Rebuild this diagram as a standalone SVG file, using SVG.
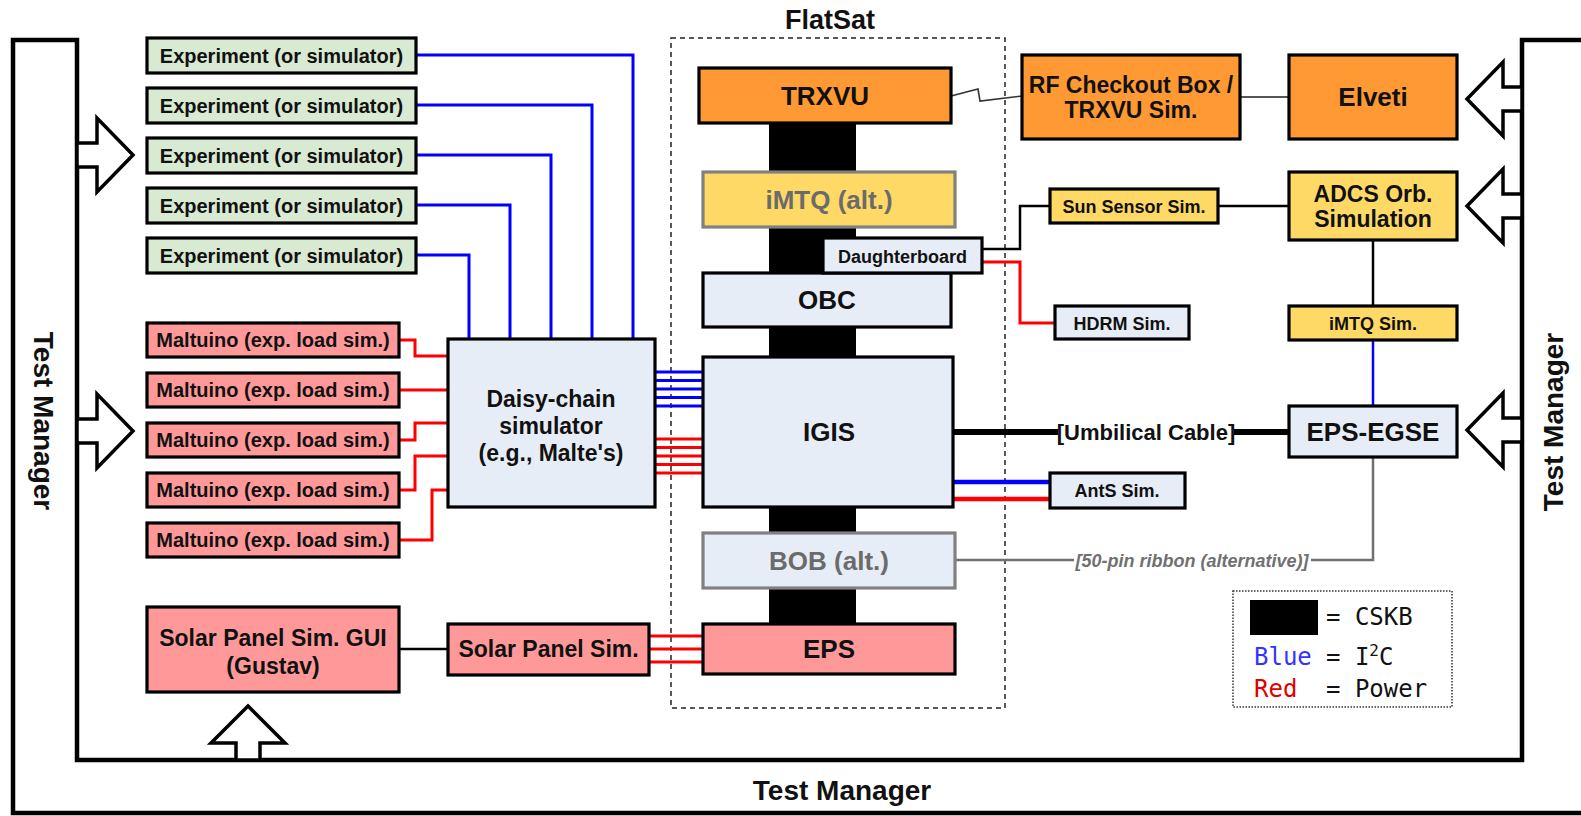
<svg xmlns="http://www.w3.org/2000/svg" width="1581" height="816" viewBox="0 0 1581 816">
<style>
text{font-family:"Liberation Sans",Arial,sans-serif;font-weight:bold;fill:#111;text-anchor:middle}
.box{stroke:#000;stroke-width:3.2}
.grn{fill:#D9EAD3}.pnk{fill:#FF9999}.lb{fill:#E7EDF7}.org{fill:#FF9933}.yel{fill:#FFD966}
.alt{stroke:#808080;stroke-width:3.2}
.t20{font-size:20px}.t18{font-size:18px}.t23{font-size:23px}.t26{font-size:26px}
.blu{stroke:#0000FF;stroke-width:3;fill:none}
.red{stroke:#FF0000;stroke-width:3;fill:none}
.blk{stroke:#000;stroke-width:2.5;fill:none}
.arr{fill:#fff;stroke:#000;stroke-width:3.5;stroke-linejoin:miter}
.mono{font-family:"DejaVu Sans Mono","Liberation Mono",monospace;font-weight:normal;font-size:24px;text-anchor:start}
</style>
<rect width="1581" height="816" fill="#fff"/>

<g id="test-manager">
<path d="M1581 40 L1522 40 L1522 760 L77 760 L77 40 L13 40 L13 813 L1581 813" fill="none" stroke="#000" stroke-width="4.5"/>
<polygon class="arr" points="77,143 97,143 97,118 133,155 97,192 97,167 77,167"/>
<polygon class="arr" points="77,419 97,419 97,394 133,431 97,468 97,443 77,443"/>
<polygon class="arr" points="1522,87 1503,87 1503,62 1467,99 1503,136 1503,111 1522,111"/>
<polygon class="arr" points="1522,194 1503,194 1503,169 1467,206 1503,243 1503,218 1522,218"/>
<polygon class="arr" points="1522,418 1503,418 1503,393 1467,430 1503,467 1503,442 1522,442"/>
<polygon class="arr" points="236,760 236,743 211,743 248,706 285,743 260,743 260,760"/>
<text transform="translate(44,421) rotate(90)" x="0" y="10" style="font-size:28px">Test Manager</text>
<text transform="translate(1553,422) rotate(-90)" x="0" y="10" style="font-size:28px">Test Manager</text>
<text x="842" y="800" style="font-size:28px">Test Manager</text>
</g>

<g id="flatsat">
<rect x="671" y="38" width="334" height="670" fill="none" stroke="#222" stroke-width="1.5" stroke-dasharray="5,4"/>
<text x="830" y="29" style="font-size:27px">FlatSat</text>
</g>

<g id="cskb-stack">
<rect x="769" y="120" width="87" height="506" fill="#000"/>
</g>

<g id="connectors">
<polyline class="blu" points="416,55 633,55 633,339"/>
<polyline class="blu" points="416,105 592,105 592,339"/>
<polyline class="blu" points="416,155 551,155 551,339"/>
<polyline class="blu" points="416,205 510,205 510,339"/>
<polyline class="blu" points="416,255 469,255 469,339"/>
<polyline class="red" points="399,340 415,340 415,356 448,356"/>
<polyline class="red" points="399,390 448,390"/>
<polyline class="red" points="399,440 415,440 415,423 448,423"/>
<polyline class="red" points="399,490 415,490 415,456 448,456"/>
<polyline class="red" points="399,540 432,540 432,490 448,490"/>
<path class="blu" d="M655 372H703M655 380.5H703M655 389H703M655 397.5H703M655 406H703"/>
<path class="red" d="M655 439H703M655 447.5H703M655 456H703M655 464.5H703M655 473H703"/>
<path class="red" d="M649 636H703M649 649H703M649 662H703"/>
<path class="blk" d="M399 649H448"/>
<polyline points="951,96 978,89 980,101 1022,96" fill="none" stroke="#333" stroke-width="1.6"/>
<path d="M1240 97H1289" stroke="#555" stroke-width="1.8"/>
<polyline class="blk" points="982,249 1020,249 1020,206 1050,206"/>
<polyline class="red" points="982,262 1020,262 1020,323 1055,323"/>
<path class="blk" d="M1218 206H1289"/>
<path class="blk" d="M1373 240V306"/>
<path class="blu" d="M1373 340V406" style="stroke-width:2.5"/>
<path d="M953 432H1058M1234 432H1289" stroke="#000" stroke-width="6"/>
<text x="1146" y="440" style="font-size:22px">[Umbilical Cable]</text>
<path d="M953 482H1050" stroke="#0000FF" stroke-width="4.5"/>
<path d="M953 499H1050" stroke="#FF0000" stroke-width="4.5"/>
<polyline points="955,560 1074,560" fill="none" stroke="#707070" stroke-width="2.5"/>
<polyline points="1311,560 1373,560 1373,457" fill="none" stroke="#707070" stroke-width="2.5"/>
<text x="1192" y="566.5" style="font-size:18px;font-style:italic;fill:#707070">[50-pin ribbon (alternative)]</text>
</g>

<g id="exp1"><rect class="box grn" x="147" y="38" width="269" height="35"/><text class="t20" x="281.5" y="62.5">Experiment (or simulator)</text></g>
<g id="exp2"><rect class="box grn" x="147" y="88" width="269" height="35"/><text class="t20" x="281.5" y="112.5">Experiment (or simulator)</text></g>
<g id="exp3"><rect class="box grn" x="147" y="138" width="269" height="35"/><text class="t20" x="281.5" y="162.5">Experiment (or simulator)</text></g>
<g id="exp4"><rect class="box grn" x="147" y="188" width="269" height="35"/><text class="t20" x="281.5" y="212.5">Experiment (or simulator)</text></g>
<g id="exp5"><rect class="box grn" x="147" y="238" width="269" height="35"/><text class="t20" x="281.5" y="262.5">Experiment (or simulator)</text></g>

<g id="malt1"><rect class="box pnk" x="147" y="323" width="252" height="34"/><text class="t20" x="273" y="347">Maltuino (exp. load sim.)</text></g>
<g id="malt2"><rect class="box pnk" x="147" y="373" width="252" height="34"/><text class="t20" x="273" y="397">Maltuino (exp. load sim.)</text></g>
<g id="malt3"><rect class="box pnk" x="147" y="423" width="252" height="34"/><text class="t20" x="273" y="447">Maltuino (exp. load sim.)</text></g>
<g id="malt4"><rect class="box pnk" x="147" y="473" width="252" height="34"/><text class="t20" x="273" y="497">Maltuino (exp. load sim.)</text></g>
<g id="malt5"><rect class="box pnk" x="147" y="523" width="252" height="34"/><text class="t20" x="273" y="547">Maltuino (exp. load sim.)</text></g>

<g id="daisy"><rect class="box lb" x="448" y="339" width="207" height="168"/>
<text class="t23" x="551" y="407">Daisy-chain</text><text class="t23" x="551" y="434">simulator</text><text class="t23" x="551" y="461">(e.g., Malte's)</text></g>

<g id="solar-gui"><rect class="box pnk" x="147" y="607" width="252" height="85"/>
<text class="t23" x="273" y="646">Solar Panel Sim. GUI</text><text class="t23" x="273" y="674">(Gustav)</text></g>
<g id="solar-sim"><rect class="box pnk" x="448" y="624" width="201" height="51"/><text class="t23" x="548.5" y="657">Solar Panel Sim.</text></g>

<g id="trxvu"><rect class="box org" x="699" y="68" width="252" height="55"/><text class="t26" x="825" y="104.5">TRXVU</text></g>
<g id="imtq-alt"><rect class="alt yel" x="703" y="172" width="252" height="55"/><text class="t26" x="829" y="209" style="fill:#6b6b6b">iMTQ (alt.)</text></g>
<g id="obc"><rect class="box lb" x="703" y="273" width="248" height="54"/><text class="t26" x="827" y="309">OBC</text></g>
<g id="daughterboard"><rect class="box lb" x="823" y="238" width="159" height="35"/><text class="t18" x="902.5" y="262.5">Daughterboard</text></g>
<g id="igis"><rect class="box lb" x="703" y="357" width="250" height="150"/><text class="t26" x="829" y="441">IGIS</text></g>
<g id="bob"><rect class="alt lb" x="703" y="533" width="252" height="55"/><text class="t26" x="829" y="570" style="fill:#6b6b6b">BOB (alt.)</text></g>
<g id="eps"><rect class="box pnk" x="703" y="624" width="252" height="50"/><text class="t26" x="829" y="658">EPS</text></g>

<g id="rf-box"><rect class="box org" x="1022" y="55" width="218" height="84"/>
<text class="t23" x="1131" y="93">RF Checkout Box /</text><text class="t23" x="1131" y="118">TRXVU Sim.</text></g>
<g id="elveti"><rect class="box org" x="1289" y="55" width="168" height="84"/><text class="t26" x="1373" y="106">Elveti</text></g>
<g id="sun-sensor"><rect class="box yel" x="1050" y="189" width="168" height="34"/><text class="t18" x="1134" y="212.5">Sun Sensor Sim.</text></g>
<g id="adcs"><rect class="box yel" x="1289" y="172" width="168" height="68"/>
<text class="t23" x="1373" y="202">ADCS Orb.</text><text class="t23" x="1373" y="227">Simulation</text></g>
<g id="hdrm"><rect class="box lb" x="1055" y="306" width="134" height="33"/><text class="t18" x="1122" y="329.5">HDRM Sim.</text></g>
<g id="imtq-sim"><rect class="box yel" x="1289" y="306" width="168" height="34"/><text class="t18" x="1373" y="329.5">iMTQ Sim.</text></g>
<g id="eps-egse"><rect class="box lb" x="1289" y="406" width="168" height="51"/><text class="t26" x="1373" y="441">EPS-EGSE</text></g>
<g id="ants"><rect class="box lb" x="1050" y="473" width="135" height="35"/><text class="t18" x="1117" y="496.5">AntS Sim.</text></g>

<g id="legend">
<rect x="1233" y="591" width="219" height="116" fill="none" stroke="#333" stroke-width="1.5" stroke-dasharray="1.5,1.5"/>
<rect x="1250" y="600" width="68" height="35" fill="#000"/>
<text class="mono" x="1326" y="625">= CSKB</text>
<text class="mono" x="1254" y="665"><tspan fill="#3333FF">Blue</tspan><tspan x="1326">= I</tspan><tspan dy="-9" style="font-size:16px">2</tspan><tspan dy="9">C</tspan></text>
<text class="mono" x="1254" y="697"><tspan fill="#E00000">Red</tspan><tspan x="1326">= Power</tspan></text>
</g>
</svg>
